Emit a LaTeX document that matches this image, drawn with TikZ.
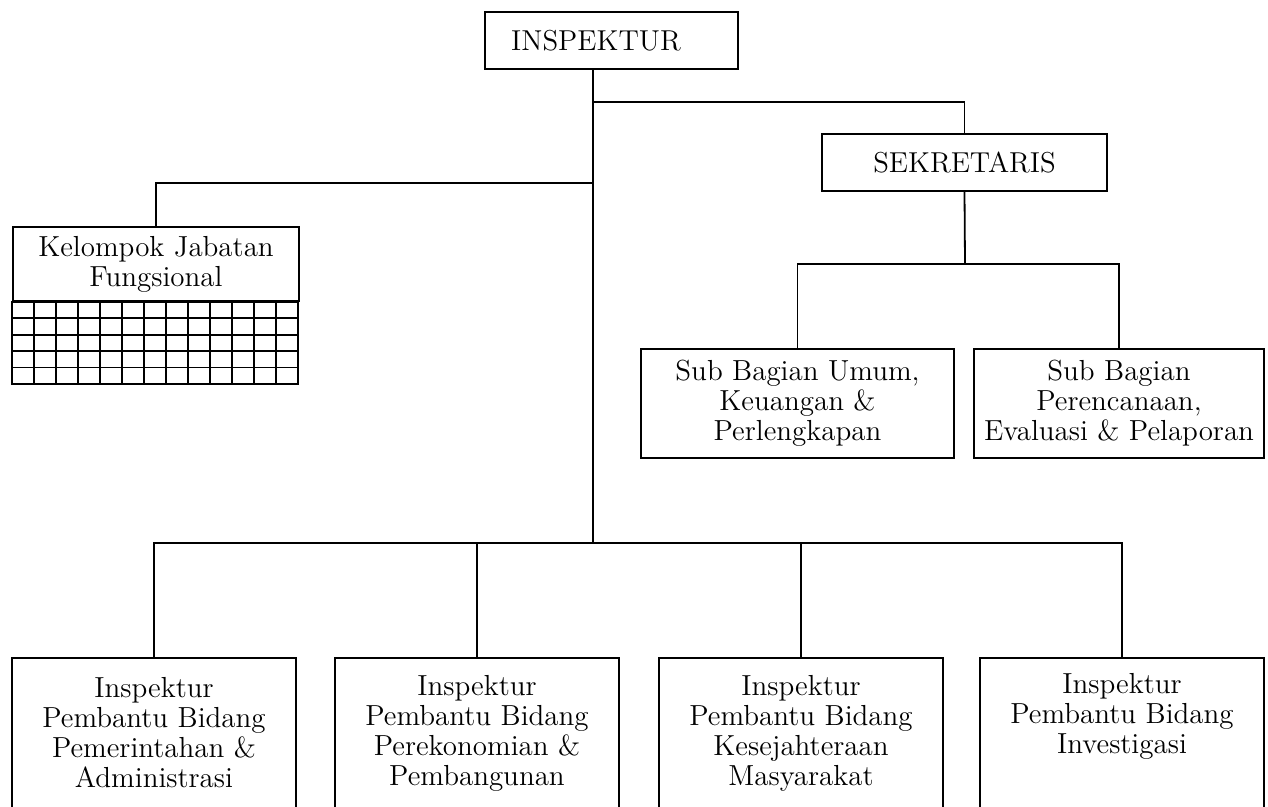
\documentclass[tikz,border=0pt]{standalone}
\usepackage{tikz}
\usepackage{amsmath}
\usetikzlibrary{positioning}

\tikzset{
    unitbox/.style={draw, line width=0.9pt, rectangle, inner sep=2pt, align=center},
    headbox/.style={unitbox, font=\fontsize{14.4}{17}\selectfont, minimum height=28.5pt},
    subbox/.style={unitbox, font=\fontsize{14.5}{15}\selectfont, minimum height=54.5pt},
    bidbox/.style={unitbox, font=\fontsize{14.5}{15}\selectfont, minimum width=142pt, minimum height=75pt},
    link/.style={line width=0.9pt}
}

\begin{document}
\begin{tikzpicture}[x=0.5pt, y=-0.5pt]
            \useasboundingbox (0,0) rectangle (1268,807);
            \clip (0,0) rectangle (1268,807);

            % pimpinan
            \node[headbox, minimum width=126.5pt] (insp) at (611.5,40.5) {INSPEKTUR\hspace*{15.5pt}};
            \node[headbox, minimum width=142.5pt] (sek) at (964.5,162.5) {SEKRETARIS};

            % kelompok jabatan fungsional
            \node[unitbox, font=\fontsize{14.5}{15}\selectfont, minimum width=143pt, minimum height=37pt] (kel) at (156,264) {Kelompok Jabatan\\Fungsional};
            \draw[link, shift={(kel.south west)}] (0,0) rectangle (286,82);
            \foreach \i in {1,...,12}
                \draw[link, shift={(kel.south west)}] (\i*22,0) -- (\i*22,82);
            \foreach \j in {1,...,4}
                \draw[link, shift={(kel.south west)}] (0,\j*16.4) -- (286,\j*16.4);

            % sub bagian
            \node[subbox, minimum width=156.5pt] (suba) at (797.5,403.5) {Sub Bagian Umum,\\Keuangan \&\\Perlengkapan};
            \node[subbox, minimum width=145pt] (subb) at (1119,403.5) {Sub Bagian\\Perencanaan,\\Evaluasi \& Pelaporan};

            % inspektur pembantu
            \node[bidbox] (bid1) at (154,733) {Inspektur\\Pembantu Bidang\\Pemerintahan \&\\Administrasi};
            \node[bidbox] (bid2) at (477,733) {Inspektur\\Pembantu Bidang\\Perekonomian \&\\Pembangunan};
            \node[bidbox] (bid3) at (801,733) {Inspektur\\Pembantu Bidang\\Kesejahteraan\\Masyarakat};
            \node[bidbox] (bid4) at (1122,733) {Inspektur\\Pembantu Bidang\\Investigasi\\\strut};

            % garis
            \coordinate (bus) at (593,543);
            \coordinate (jsek) at (593,102);
            \coordinate (jkel) at (593,183);
            \coordinate (sbus) at (965,264);
            \draw[link] (insp.south -| bus) -- (bus);
            \draw[link] (jsek) -| (sek.north);
            \draw[link] (jkel) -| (kel.north);
            \draw[link] (sek.south) -- (sbus);
            \draw[link] (suba.north) |- (sbus) -| (subb.north);
            \draw[link] (bid1.north) |- (bus) -| (bid4.north);
            \draw[link] (bid2.north) -- (bid2.north |- bus);
            \draw[link] (bid3.north) -- (bid3.north |- bus);
        \end{tikzpicture}
\end{document}
